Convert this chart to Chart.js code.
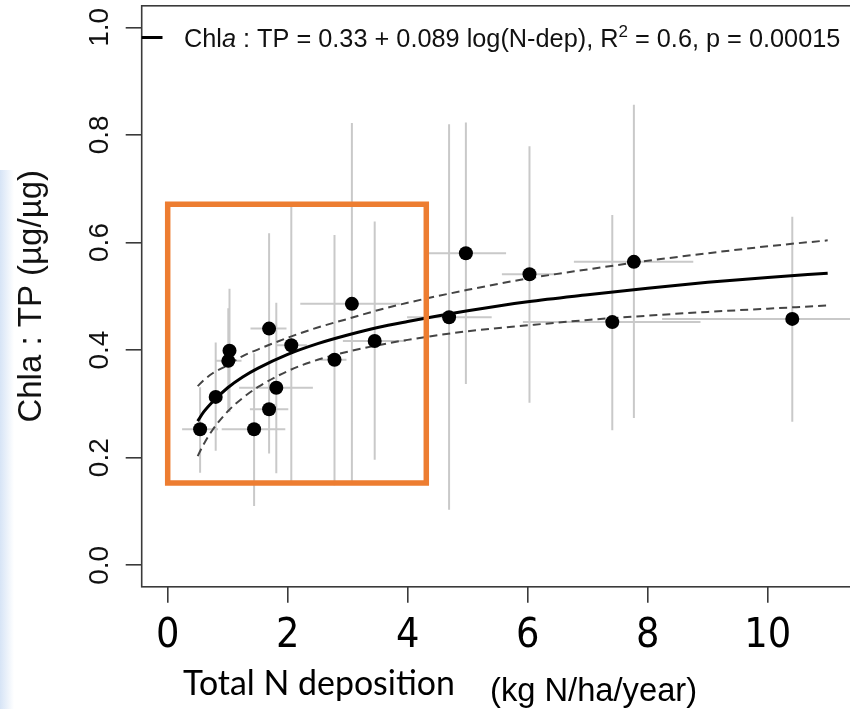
<!DOCTYPE html>
<html>
<head>
<meta charset="utf-8">
<script src="https://cdn.jsdelivr.net/npm/chart.js@4.4.1/dist/chart.umd.min.js"></script>
<style>
html,body{margin:0;padding:0;background:#fff;}
#wrap{position:relative;width:850px;height:709px;overflow:hidden;}
#tint{position:absolute;left:0;top:170px;width:14px;height:539px;background:linear-gradient(to right, rgba(210,225,245,0.9), rgba(255,255,255,0));}
canvas{position:absolute;left:0;top:0;}
</style>
</head>
<body>
<div id="wrap"><div id="tint"></div><canvas id="c" width="850" height="709"></canvas></div>
<script>
// ---- data ----
const nDep   = [0.54, 0.80, 1.03, 1.01, 1.44, 1.69, 1.69, 1.81, 2.06, 2.78, 3.07, 3.45, 4.69, 4.97, 6.03, 7.41, 7.77, 10.41];
const ratio  = [0.253, 0.313, 0.399, 0.380, 0.253, 0.440, 0.290, 0.330, 0.409, 0.382, 0.486, 0.417, 0.461, 0.580, 0.541, 0.452, 0.564, 0.458];
const nLow   = [0.24, 0.72, 0.95, 0.79, 0.90, 1.38, 1.37, 1.19, 1.81, 2.54, 2.21, 2.92, 3.99, 4.30, 5.57, 5.92, 6.77, 8.24];
const nHigh  = [0.84, 0.88, 1.11, 1.23, 1.96, 1.98, 2.01, 2.42, 2.32, 2.98, 3.87, 3.97, 5.40, 5.64, 6.47, 8.88, 8.76, 12.57];
const rLow   = [0.172, 0.213, 0.285, 0.285, 0.110, 0.263, 0.208, 0.171, 0.151, 0.149, 0.150, 0.196, 0.103, 0.337, 0.302, 0.251, 0.274, 0.267];
const rHigh  = [0.331, 0.414, 0.514, 0.478, 0.394, 0.617, 0.372, 0.488, 0.667, 0.614, 0.822, 0.639, 0.820, 0.823, 0.779, 0.651, 0.856, 0.648];

const curveX  = [0.5, 0.6, 0.75, 1, 1.25, 1.5, 2, 2.5, 3, 3.5, 4, 5, 6, 7, 8, 9, 10, 11];
const fitY    = [0.268, 0.285, 0.304, 0.330, 0.350, 0.366, 0.392, 0.412, 0.428, 0.442, 0.453, 0.473, 0.490, 0.503, 0.515, 0.526, 0.535, 0.543];
const ciUpper = [0.333, 0.344, 0.357, 0.372, 0.389, 0.401, 0.423, 0.442, 0.458, 0.474, 0.488, 0.512, 0.533, 0.550, 0.566, 0.580, 0.593, 0.604];
const ciLower = [0.203, 0.225, 0.252, 0.286, 0.311, 0.331, 0.361, 0.382, 0.397, 0.409, 0.419, 0.435, 0.446, 0.456, 0.464, 0.471, 0.477, 0.483];

const xTicks = [0, 2, 4, 6, 8, 10];
const yTicks = [0.0, 0.2, 0.4, 0.6, 0.8, 1.0];
const boxX = [0, 4.31];      // highlighted region (N deposition)
const boxY = [0.153, 0.671]; // highlighted region (ratio)

const legendParts = [
  {t: 'Chl', s: 'n'}, {t: 'a', s: 'i'}, {t: ' : TP = 0.33 + 0.089 log(N-dep), R', s: 'n'},
  {t: '2', s: 'sup'}, {t: ' = 0.6, p = 0.00015', s: 'n'}
];
const yTitle = 'Chla : TP (µg/µg)';
const xTitleMain = 'Total N deposition';
const xTitleUnit = '(kg N/ha/year)';

// ---- build datasets ----
const pts = nDep.map((x, i) => ({x: x, y: ratio[i]}));
const vErr = [], hErr = [];
nDep.forEach((x, i) => {
  vErr.push({x: x, y: rLow[i]}, {x: x, y: rHigh[i]}, {x: x, y: null});
  hErr.push({x: nLow[i], y: ratio[i]}, {x: nHigh[i], y: ratio[i]}, {x: nHigh[i], y: null});
});
const mk = arr => curveX.map((x, i) => ({x: x, y: arr[i]}));
const box = [
  {x: boxX[0], y: boxY[0]}, {x: boxX[1], y: boxY[0]}, {x: boxX[1], y: boxY[1]},
  {x: boxX[0], y: boxY[1]}, {x: boxX[0], y: boxY[0]}
];

const frameColor = '#3a3a3a';
const SANS = "'Liberation Sans', Arial, sans-serif";
const NARROW = "'Liberation Sans Narrow', 'DejaVu Sans Condensed', sans-serif";
const noPad = s => { s.paddingTop = 0; s.paddingBottom = 0; s.paddingLeft = 0; s.paddingRight = 0; };

const decor = {
  id: 'decor',
  beforeDatasetsDraw(chart) {
    const {ctx, chartArea: a} = chart;
    ctx.save();
    ctx.strokeStyle = frameColor;
    ctx.lineWidth = 1.6;
    ctx.strokeRect(a.left, a.top, a.right - a.left + 30, a.bottom - a.top);
    ctx.restore();
  },
  afterDraw(chart) {
    const {ctx, chartArea: a} = chart;
    ctx.save();
    // legend sample line
    const ly = 37.5;
    ctx.strokeStyle = '#000';
    ctx.lineWidth = 3;
    ctx.beginPath(); ctx.moveTo(a.left, ly); ctx.lineTo(162.5, ly); ctx.stroke();
    // legend text
    let x = 184;
    const base = ly + 9;
    ctx.fillStyle = '#111';
    ctx.textBaseline = 'alphabetic';
    legendParts.forEach(p => {
      let f = '25.3px ' + SANS, yy = base;
      if (p.s === 'i') f = 'italic 25.3px ' + SANS;
      if (p.s === 'sup') { f = '17px ' + SANS; yy = base - 10; }
      ctx.font = f;
      ctx.fillText(p.t, x, yy);
      x += ctx.measureText(p.t).width;
    });
    // x axis title (two parts)
    const fitFont = (txt, fam, w) => { ctx.font = '100px ' + fam; return 100 * w / ctx.measureText(txt).width; };
    let s1 = fitFont(xTitleMain, "Lato, 'Open Sans', sans-serif", 272);
    ctx.font = s1.toFixed(1) + "px Lato, 'Open Sans', sans-serif";
    ctx.fillStyle = '#000';
    ctx.fillText(xTitleMain, 183, 695);
    let s2 = fitFont(xTitleUnit, SANS, 207);
    ctx.font = s2.toFixed(1) + 'px ' + SANS;
    ctx.fillText(xTitleUnit, 490, 701);
    ctx.restore();
  }
};

new Chart(document.getElementById('c'), {
  type: 'scatter',
  data: {
    datasets: [
      {type: 'line', data: box, borderColor: '#ED7D31', borderWidth: 5.5, pointRadius: 0,
       borderJoinStyle: 'miter', borderCapStyle: 'square', tension: 0, fill: false},
      {type: 'scatter', data: pts, pointRadius: 7, pointHoverRadius: 7,
       backgroundColor: '#000', borderColor: '#000', borderWidth: 0},
      {type: 'line', data: mk(fitY), borderColor: '#000', borderWidth: 3, pointRadius: 0,
       cubicInterpolationMode: 'monotone', fill: false},
      {type: 'line', data: mk(ciUpper), borderColor: '#444', borderWidth: 2, borderDash: [8, 5],
       pointRadius: 0, cubicInterpolationMode: 'monotone', fill: false},
      {type: 'line', data: mk(ciLower), borderColor: '#444', borderWidth: 2, borderDash: [8, 5],
       pointRadius: 0, cubicInterpolationMode: 'monotone', fill: false},
      {type: 'line', data: vErr, borderColor: '#c9c9c9', borderWidth: 2, pointRadius: 0,
       spanGaps: false, tension: 0, fill: false},
      {type: 'line', data: hErr, borderColor: '#c9c9c9', borderWidth: 2, pointRadius: 0,
       spanGaps: false, tension: 0, fill: false}
    ]
  },
  options: {
    responsive: false,
    animation: false,
    events: [],
    layout: {autoPadding: false, padding: {top: 5.8, right: 0, bottom: 0, left: 0}},
    plugins: {legend: {display: false}, tooltip: {enabled: false}},
    scales: {
      x: {
        type: 'linear', min: -0.4333, max: 11.372,
        afterBuildTicks: s => { s.ticks = xTicks.map(v => ({value: v})); },
        afterFit: s => { s.height = 709 - 586.8; noPad(s); },
        grid: {display: true, drawOnChartArea: false, drawTicks: true, tickLength: 16, color: frameColor, lineWidth: 1.6},
        border: {display: false},
        ticks: {color: '#000', font: {family: NARROW, size: 41}, padding: 9, maxRotation: 0, minRotation: 0,
                callback: v => String(v)}
      },
      y: {
        type: 'linear', min: -0.04, max: 1.04,
        afterBuildTicks: s => { s.ticks = yTicks.map(v => ({value: v})); },
        afterFit: s => { s.width = 141.7; noPad(s); },
        grid: {display: true, drawOnChartArea: false, drawTicks: true, tickLength: 16, color: frameColor, lineWidth: 1.6},
        border: {display: false},
        title: {display: true, text: yTitle, color: '#111', font: {family: SANS, size: 33}, padding: {top: 12, bottom: 0}},
        ticks: {color: '#111', font: {family: SANS, size: 28}, padding: 6, minRotation: 90, maxRotation: 90,
                crossAlign: 'center', callback: v => v.toFixed(1)}
      }
    }
  },
  plugins: [decor]
});
</script>
</body>
</html>
